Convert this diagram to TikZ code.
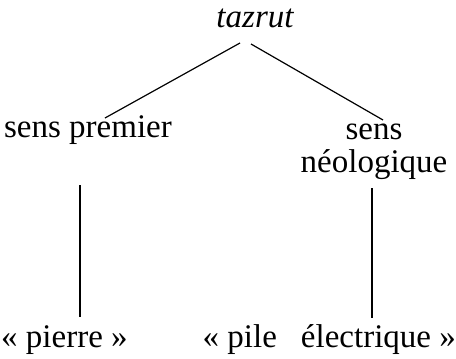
\documentclass[tikz,border=0pt]{standalone}
\usepackage{fontspec}
\setmainfont{Liberation Serif}
\begin{document}
\begin{tikzpicture}[x=1pt,y=-1pt,
  lbl/.style={inner sep=0pt, font=\fontsize{33}{34}\selectfont},
  edge/.style={line width=1.2pt}]
\useasboundingbox (0,0) rectangle (456,359);
\node[lbl, anchor=base, font=\fontsize{33}{34}\selectfont\itshape] (taz) at (255,27) {tazrut};
\node[lbl, anchor=base] (prem) at (88,137) {sens premier};
\node[lbl, anchor=base, align=center] (neo) at (374,172) {sens\\[-1pt]néologique};
\node[lbl, anchor=base west] (pierre) at (1,347) {«~pierre~»};
\node[lbl, anchor=base east] (pile) at (456,347) {«~pile\hspace{24pt}électrique~»};
\draw[edge] ([shift={(-15,16)}]taz.base) -- ([shift={(17,-19)}]prem.base);
\draw[edge] ([shift={(-4,17)}]taz.base) -- ([shift={(9,-52)}]neo.base);
\draw[edge] ([shift={(-8,48)}]prem.base) -- ([shift={(79,-30)}]pierre.base west);
\draw[edge] ([shift={(-2,16)}]neo.base) -- ([shift={(-84,-29)}]pile.base east);
\end{tikzpicture}
\end{document}
